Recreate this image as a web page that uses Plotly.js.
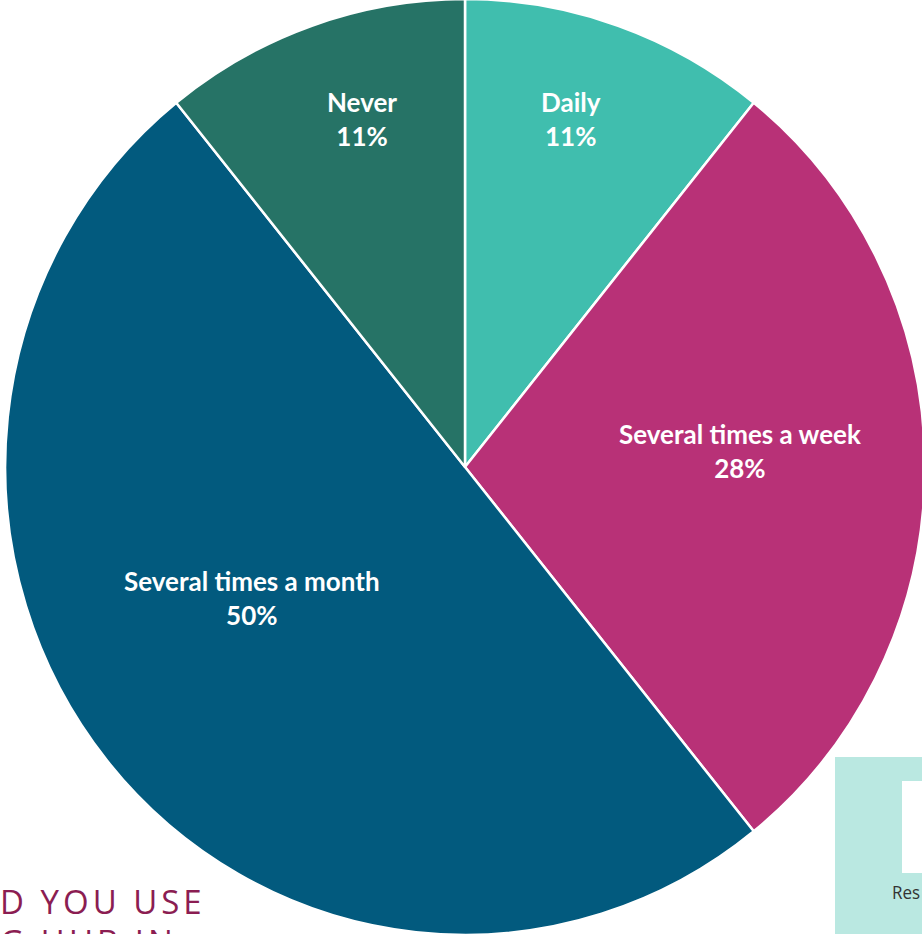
<!DOCTYPE html>
<html>
<head>
<meta charset="utf-8">
<script src="https://cdn.plot.ly/plotly-3.0.1.min.js"></script>
<style>
  html, body { margin:0; padding:0; width:922px; height:934px; overflow:hidden; background:#ffffff; }
  #chart { position:absolute; left:0; top:0; width:930px; height:934px; transform-origin:465px 467px; transform:scaleY(1.0174); }
</style>
</head>
<body>
<div id="chart"></div>
<script>
// ---- data ----
const categories = ["Daily", "Several times a week", "Several times a month", "Never"];
const shares = [10.8, 28.4, 50.0, 10.8];
const shareLabels = ["11%", "28%", "50%", "11%"];
const sliceColors = ["#40BEAE", "#B83177", "#025A7E", "#267366"];
const titleFragment = "D YOU USE";
const titleFragment2 = "G HUB IN";
const sideNote = "Res";

// ---- layout helpers (screen px -> paper coords) ----
const W = 930, H = 934, L = 5, R = 5, T = 7, B = 7;
const PW = W - L - R, PH = H - T - B;
const SY = 1.0174, CY = 467;
function px(x) { return (x - L) / PW; }
function py(yScreen) { const ys = CY + (yScreen - CY) / SY; return 1 - (ys - T) / PH; }

// label anchor positions (screen px), in category order
const labelAnchors = [[571, 119], [740, 451], [252, 598], [362, 119]];

const trace = {
  type: "pie",
  labels: categories,
  values: shares,
  sort: false,
  direction: "clockwise",
  rotation: 0,
  marker: { colors: sliceColors, line: { color: "#ffffff", width: 2.5 } },
  textinfo: "none",
  hoverinfo: "none",
  showlegend: false
};

const labelFont = { family: "Lato, 'Open Sans', sans-serif", size: 26, color: "#ffffff" };
const sliceAnnotations = categories.map((c, i) => ({
  text: "<b>" + c + "</b><br><b>" + shareLabels[i] + "</b>",
  xref: "paper", yref: "paper",
  x: px(labelAnchors[i][0]), y: py(labelAnchors[i][1]),
  xanchor: "center", yanchor: "middle", showarrow: false, align: "center",
  font: labelFont
}));

const layout = {
  width: W, height: H,
  margin: { l: L, r: R, t: T, b: B, pad: 0 },
  paper_bgcolor: "rgba(0,0,0,0)",
  plot_bgcolor: "rgba(0,0,0,0)",
  showlegend: false,
  shapes: [
    { type: "rect", xref: "paper", yref: "paper", x0: px(835), x1: px(940), y0: py(757), y1: py(950),
      fillcolor: "#BAE8E1", line: { width: 0 }, layer: "below" },
    { type: "rect", xref: "paper", yref: "paper", x0: px(902), x1: px(940), y0: py(781), y1: py(873),
      fillcolor: "#ffffff", line: { width: 0 }, layer: "below" }
  ],
  annotations: sliceAnnotations.concat([
    { text: '<span style="letter-spacing:4px">' + titleFragment + '</span>', xref: "paper", yref: "paper",
      x: px(-2), y: py(901), xanchor: "left", yanchor: "middle", showarrow: false,
      font: { family: "'Open Sans', sans-serif", size: 33, color: "#8B1D52" } },
    { text: '<span style="letter-spacing:4px">' + titleFragment2 + '</span>', xref: "paper", yref: "paper",
      x: px(-2), y: py(942), xanchor: "left", yanchor: "middle", showarrow: false,
      font: { family: "'Open Sans', sans-serif", size: 33, color: "#8B1D52" } },
    { text: sideNote, xref: "paper", yref: "paper",
      x: px(890), y: py(893), xanchor: "left", yanchor: "middle", showarrow: false,
      font: { family: "'Open Sans', sans-serif", size: 17, color: "#333333" } }
  ])
};

Plotly.newPlot("chart", [trace], layout, { displayModeBar: false, staticPlot: true });
</script>
</body>
</html>
